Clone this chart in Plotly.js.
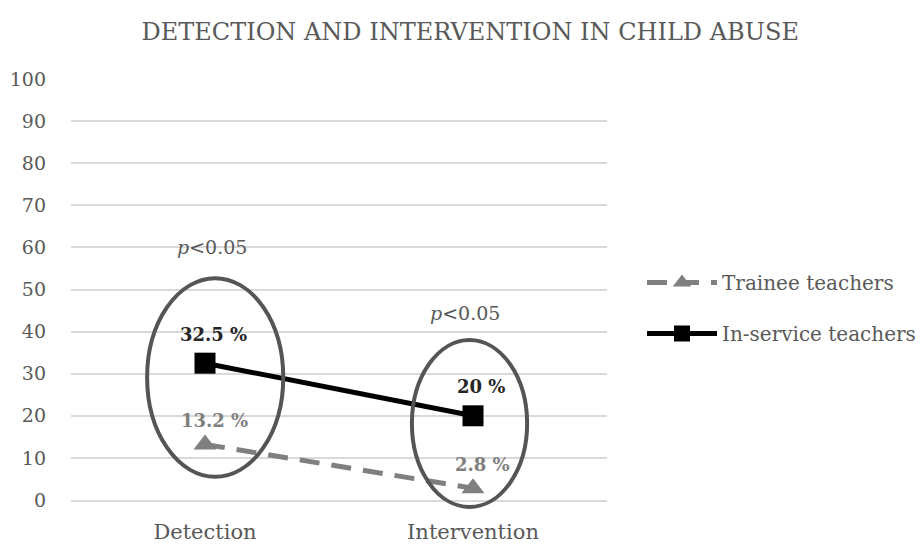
<!DOCTYPE html>
<html><head><meta charset="utf-8">
<script src="https://cdn.plot.ly/plotly-3.0.1.min.js"></script>
<style>html,body{margin:0;padding:0;background:#fff}</style>
</head><body><div id="chart" style="width:922px;height:545px"></div>
<script>
const categories = ["Detection", "Intervention"];
const traineeValues = [13.2, 2.8];
const inServiceValues = [32.5, 20];
const traineeLabels = ["13.2 %", "2.8 %"];
const inServiceLabels = ["32.5 %", "20 %"];
const pLabels = ["<i>p</i>&lt;0.05", "<i>p</i>&lt;0.05"];
const pLevels = [60, 44.4];
const yTicks = [0,10,20,30,40,50,60,70,80,90,100];

const FONT = "DejaVu Serif, serif";
const grey = "#7f7f7f";
const text = "#595959";

const traces = [
  {x: categories, y: traineeValues, name: "Trainee teachers", type: "scatter", mode: "lines+markers",
   line: {color: grey, width: 5, dash: "20px,12px"}, marker: {symbol: "triangle-up", size: 20, color: grey},
   legendgroup: "a", cliponaxis: false},
  {x: categories, y: inServiceValues, name: "In-service teachers", type: "scatter", mode: "lines+markers",
   line: {color: "#000", width: 5}, marker: {symbol: "square", size: 21, color: "#000"},
   legendgroup: "b", cliponaxis: false}
];

const annotations = [];
categories.forEach((c, i) => {
  annotations.push({x: c, y: inServiceValues[i], text: "<b>" + inServiceLabels[i] + "</b>", showarrow: false,
    xshift: 8, yshift: 29, font: {family: FONT, size: 18, color: "#262626"}});
  annotations.push({x: c, y: traineeValues[i], text: "<b>" + traineeLabels[i] + "</b>", showarrow: false,
    xshift: 9, yshift: 24, font: {family: FONT, size: 18, color: grey}});
  annotations.push({x: c, y: pLevels[i], text: pLabels[i], showarrow: false, xshift: i === 0 ? 7 : -8,
    font: {family: FONT, size: 19, color: text}});
});

const ell = {type: "circle", xref: "paper", yref: "paper", line: {color: "#555", width: 4}, layer: "above"};
const shapes = [
  Object.assign({}, ell, {x0: 0.142, x1: 0.396, y0: 0.055, y1: 0.527}),
  Object.assign({}, ell, {x0: 0.636, x1: 0.851, y0: -0.0166, y1: 0.380})
];

const layout = {
  width: 922, height: 545,
  margin: {l: 71, r: 315, t: 79, b: 45},
  paper_bgcolor: "#fff", plot_bgcolor: "#fff",
  font: {family: FONT, color: text},
  title: {text: "DETECTION AND INTERVENTION IN CHILD ABUSE", x: 0.51, xanchor: "center",
    y: 1 - 32/545, yanchor: "middle", yref: "container", font: {family: FONT, size: 24, color: text}},
  xaxis: {type: "category", showgrid: false, zeroline: false, showline: true, linecolor: "#d9d9d9", linewidth: 2,
    ticks: "outside", ticklen: 12, tickcolor: "rgba(0,0,0,0)", tickfont: {family: FONT, size: 21, color: text},
    range: [-0.5, 1.5]},
  yaxis: {range: [0, 100], tickvals: yTicks, showgrid: true, gridcolor: "#d9d9d9", gridwidth: 2, zeroline: false,
    showline: false, ticks: "", ticklabelstandoff: 24, tickfont: {family: FONT, size: 19, color: text}},
  legend: {x: 642/922, xref: "container", xanchor: "left", y: 1 - 308/545, yref: "container", yanchor: "middle",
    itemwidth: 70, traceorder: "grouped", tracegroupgap: 22, font: {family: FONT, size: 20, color: text},
    bgcolor: "rgba(0,0,0,0)"},
  shapes: shapes,
  annotations: annotations,
  showlegend: true
};

Plotly.newPlot("chart", traces, layout, {displayModeBar: false, staticPlot: true});
</script></body></html>
